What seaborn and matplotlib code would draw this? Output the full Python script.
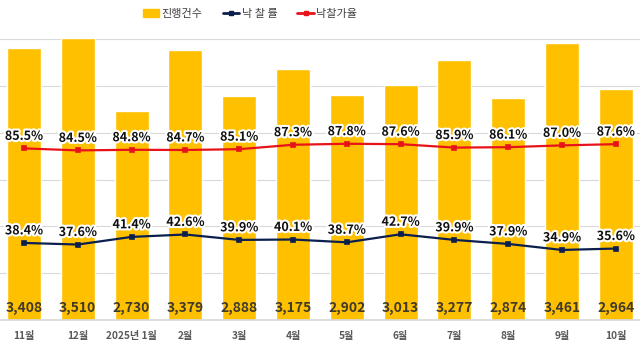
import matplotlib
matplotlib.use("Agg")
import matplotlib.pyplot as plt
import matplotlib.patheffects as pe
from matplotlib.lines import Line2D
from matplotlib.patches import Patch
import seaborn as sns
import pandas as pd

months = ["11월", "12월", "2025년 1월", "2월", "3월", "4월", "5월", "6월", "7월", "8월", "9월", "10월"]
counts = [3408, 3510, 2730, 3379, 2888, 3175, 2902, 3013, 3277, 2874, 3461, 2964]
win_rate = [38.4, 37.6, 41.4, 42.6, 39.9, 40.1, 38.7, 42.7, 39.9, 37.9, 34.9, 35.6]
price_rate = [85.5, 84.5, 84.8, 84.7, 85.1, 87.3, 87.8, 87.6, 85.9, 86.1, 87.0, 87.6]

sns.set_theme(style="white")
plt.rcParams["font.family"] = ["Noto Sans CJK KR", "DejaVu Sans"]

df = pd.DataFrame({"month": months, "count": counts, "win": win_rate, "price": price_rate})

BAR = "#FFC000"
NAVY = "#0B1F4F"
RED = "#E8121A"

fig = plt.figure(figsize=(6.4, 3.45), dpi=100)
ax = fig.add_axes([0.0, 25 / 345, 1.0, (320 - 39) / 345])

sns.barplot(data=df, x="month", y="count", color=BAR, width=0.63, ax=ax, saturation=1)
ax.set_ylim(500, 3500)
ax.set_xlim(-0.446, 11.45)
ax.set_yticks([500, 1000, 1500, 2000, 2500, 3000, 3500])
ax.yaxis.grid(True, color="#D9D9D9", linewidth=0.8)
ax.set_axisbelow(True)
for s in ax.spines.values():
    s.set_visible(False)
ax.spines["bottom"].set_visible(True)
ax.spines["bottom"].set_color("#D9D9D9")
ax.set_yticklabels([])
ax.tick_params(axis="y", length=0)
ax.tick_params(axis="x", length=0, pad=8, labelsize=7.3, labelcolor="#595959")
for lab in ax.get_xticklabels():
    lab.set_fontweight("bold")
ax.set_xlabel("")
ax.set_ylabel("")

for i, c in enumerate(counts):
    ax.text(i, 630, f"{c:,}", ha="center", va="center", fontsize=10,
            fontweight="bold", color="#403A2A")

ax2 = ax.twinx()
sns.pointplot(data=df, x="month", y="price", color=RED, markers="s", markersize=2.5,
              linewidth=1.6, ax=ax2)
sns.pointplot(data=df, x="month", y="win", color=NAVY, markers="s", markersize=2.5,
              linewidth=1.6, ax=ax2)
ax2.set_ylim(0, 140)
ax2.set_xlim(-0.446, 11.45)
ax2.set_yticks([])
ax2.set_ylabel("")
ax2.set_xlabel("")
for s in ax2.spines.values():
    s.set_visible(False)

stroke = [pe.withStroke(linewidth=3, foreground="white")]
for i in range(len(months)):
    ax2.text(i, price_rate[i] + 6, f"{price_rate[i]:.1f}%", ha="center", va="center",
             fontsize=9, fontweight="bold", color="#111111", path_effects=stroke)
    ax2.text(i, win_rate[i] + 6, f"{win_rate[i]:.1f}%", ha="center", va="center",
             fontsize=9, fontweight="bold", color="#111111", path_effects=stroke)

handles = [
    Patch(facecolor=BAR, edgecolor=BAR),
    Line2D([0], [0], color=NAVY, lw=2, marker="s", markersize=3),
    Line2D([0], [0], color=RED, lw=2, marker="s", markersize=3),
]
fig.legend(handles, ["진행건수", "낙 찰 률", "낙찰가율"], loc="center", ncol=3,
           bbox_to_anchor=(250 / 640, 1 - 14 / 345), frameon=False, fontsize=8,
           labelcolor="#404040", handlelength=1.5, handletextpad=0.2, columnspacing=1.8)

fig.savefig("out.png", dpi=100)
